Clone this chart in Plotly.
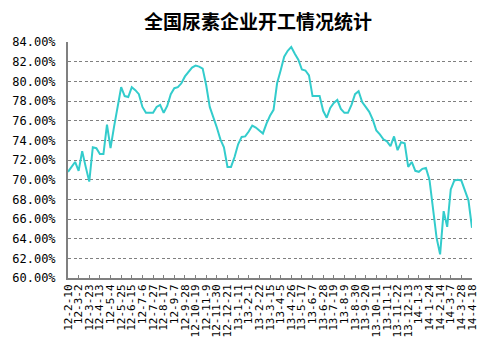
import datetime as dt
import plotly.graph_objects as go

# weekly operating rate (%), 2012-02-10 .. 2014-04-18
rates = [
    70.8, 71.3, 71.8, 70.9, 72.9, 71.3, 69.8, 73.3, 73.2, 72.6,
    72.6, 75.6, 73.2, 75.4, 77.5, 79.4, 78.5, 78.4, 79.4, 79.1,
    78.7, 77.4, 76.8, 76.8, 76.8, 77.4, 77.6, 76.8, 77.5, 78.7,
    79.3, 79.4, 79.8, 80.5, 81.0, 81.4, 81.6, 81.5, 81.3, 79.6,
    77.4, 76.4, 75.3, 74.1, 73.3, 71.3, 71.3, 72.3, 73.6, 74.35,
    74.4, 74.9, 75.5, 75.3, 75.0, 74.7, 75.7, 76.5, 77.1, 79.8,
    81.1, 82.5, 83.1, 83.5, 82.8, 82.2, 81.2, 81.1, 80.6, 78.5,
    78.5, 78.5, 77.0, 76.3, 77.3, 77.8, 78.1, 77.2, 76.8, 76.8,
    77.6, 78.7, 79.0, 77.9, 77.4, 76.9, 76.1, 75.0, 74.6, 74.1,
    73.9, 73.4, 74.4, 73.0, 73.8, 73.7, 71.3, 71.8, 70.9, 70.8,
    71.1, 71.2, 70.0, 67.3, 64.1, 62.4, 66.8, 65.2, 69.0, 69.9,
    70.0, 69.9, 69.0, 67.9, 65.1,
]

start = dt.date(2012, 2, 10)
dates = [start + dt.timedelta(days=7 * k) for k in range(len(rates))]
categories = [f"{d.year % 100}-{d.month}-{d.day}" for d in dates]
tick_labels = categories[::3]

y_ticks = [60, 62, 64, 66, 68, 70, 72, 74, 76, 78, 80, 82, 84]
y_tick_text = [f"{v:.2f}%" for v in y_ticks]

fig = go.Figure()
fig.add_trace(go.Scatter(
    x=categories, y=rates, mode="lines",
    line=dict(color="#33CCCC", width=2),
    hoverinfo="skip", showlegend=False,
))

mono = "DejaVu Sans Mono"
fig.update_layout(
    width=503, height=351,
    margin=dict(l=63, r=31, t=42, b=73),
    paper_bgcolor="white", plot_bgcolor="white",
    title=dict(text="<b>全国尿素企业开工情况统计</b>", x=0.513, xanchor="center",
               y=0.935, yanchor="middle",
               font=dict(family="Noto Sans CJK SC", size=19, color="black")),
    xaxis=dict(
        type="category", range=[0, len(rates) - 1],
        tickmode="array", tickvals=tick_labels, ticktext=tick_labels,
        tickangle=-90, ticks="inside", ticklen=3, tickcolor="#808080",
        tickfont=dict(family=mono, size=11, color="black"),
        showline=True, linecolor="#808080", linewidth=2,
        showgrid=False, zeroline=False,
    ),
    yaxis=dict(
        range=[60, 84], tickmode="array", tickvals=y_ticks, ticktext=y_tick_text,
        tickfont=dict(family=mono, size=12, color="black"),
        ticks="", ticklabelstandoff=8,
        showline=True, linecolor="#808080", linewidth=2,
        showgrid=True, gridcolor="#808080", gridwidth=1, griddash="3px,2.5px",
        zeroline=False,
    ),
)

fig.write_html("out.html")
